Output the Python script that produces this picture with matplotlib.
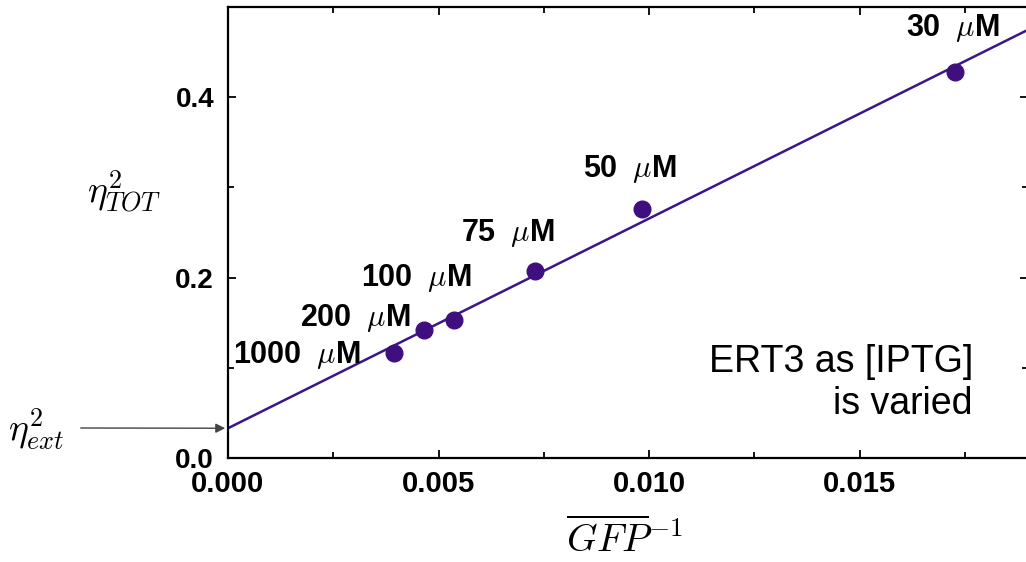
import matplotlib
matplotlib.use('Agg')
import matplotlib.pyplot as plt
from matplotlib.ticker import MultipleLocator, FormatStrFormatter

plt.rcParams['font.family'] = ['Liberation Sans', 'DejaVu Sans']
plt.rcParams['mathtext.fontset'] = 'cm'

# data
conc_labels = ['1000', '200', '100', '75', '50', '30']
inv_gfp = [0.00394, 0.00465, 0.00536, 0.00729, 0.00983, 0.01726]
eta2_tot = [0.116, 0.142, 0.153, 0.207, 0.276, 0.428]
fit_intercept = 0.033
fit_slope = 23.25

# label offsets (pixels) relative to each point
label_dx = [-97, -68, -37, -27, -12, -2]
label_dy = [-2, 12, 42, 38, 40, 44]

dot_color = '#3f0f80'
line_color = '#3b1689'

fig = plt.figure(figsize=(10.26, 5.62), dpi=100)
ax = fig.add_axes([228 / 1026, 104 / 562, 800 / 1026, 451 / 562])

xs = [0, 0.019]
ax.plot(xs, [fit_intercept + fit_slope * x for x in xs], color=line_color, lw=1.8, zorder=2)
ax.plot(inv_gfp, eta2_tot, 'o', color=dot_color, ms=12, zorder=3)

for lab, x, y, dx, dy in zip(conc_labels, inv_gfp, eta2_tot, label_dx, label_dy):
    ax.annotate(lab + r' $\;\mu$M', (x, y), xytext=(dx, dy), textcoords='offset pixels',
                ha='center', va='center', fontsize=22, fontweight='bold')

ax.set_xlim(0, 0.019)
ax.set_ylim(0, 0.5)
ax.xaxis.set_major_locator(MultipleLocator(0.005))
ax.xaxis.set_minor_locator(MultipleLocator(0.0025))
ax.yaxis.set_major_locator(MultipleLocator(0.2))
ax.yaxis.set_minor_locator(MultipleLocator(0.1))
ax.xaxis.set_major_formatter(FormatStrFormatter('%.3f'))
ax.yaxis.set_major_formatter(FormatStrFormatter('%.1f'))
ax.tick_params(which='both', direction='in', top=True, right=True, width=1.3)
ax.tick_params(which='major', length=6)
ax.tick_params(which='minor', length=4)
ax.tick_params(axis='x', pad=9, labelsize=21)
ax.tick_params(axis='y', pad=10, labelsize=20)
for lbl in ax.get_xticklabels() + ax.get_yticklabels():
    lbl.set_fontweight('bold')
for sp in ax.spines.values():
    sp.set_linewidth(1.6)

ax.text(0.931, 0.166, 'ERT3 as [IPTG]\nis varied', transform=ax.transAxes,
        ha='right', va='center', fontsize=27, linespacing=1.2)

# arrow marking the intercept
ax.annotate('', xy=(0, fit_intercept), xytext=(78, 134), textcoords='figure pixels',
            xycoords='data', annotation_clip=False,
            arrowprops=dict(arrowstyle='-|>', color='#444444', lw=1.0, mutation_scale=14))

fig.text(36 / 1026, 1 - 430 / 562, r'$\eta^2_{ext}$', fontsize=27, ha='center', va='center')
fig.text(124 / 1026, 1 - 192 / 562, r'$\eta^2_{TOT}$', fontsize=27, ha='center', va='center')
fig.text(624 / 1026, 1 - 540 / 562, r'$\overline{GFP}^{-1}$', fontsize=28, ha='center', va='center')

fig.savefig('out.png', dpi=100)
